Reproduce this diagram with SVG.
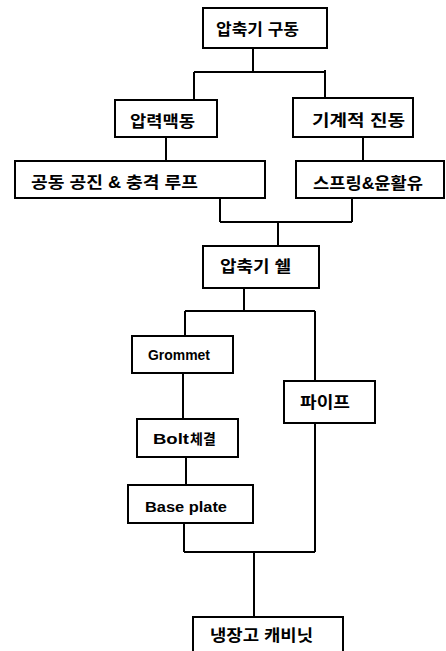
<svg xmlns="http://www.w3.org/2000/svg" width="446" height="651" viewBox="0 0 446 651">
<style>
.box{fill:#fff;stroke:#000;stroke-width:2}
.ln{stroke:#000;stroke-width:2;fill:none}
.ko{font-family:"Liberation Sans","Noto Sans CJK KR",sans-serif;font-size:16px;font-weight:bold;fill:#000}
.en{font-family:"Liberation Sans","Noto Sans CJK KR",sans-serif;font-size:14px;font-weight:bold;fill:#000}
</style>
<rect width="446" height="651" fill="#fff"/>
<g id="connectors" class="ln">
<path d="M253 48V72M194 72H325M194 72V100M325 70V98"/>
<path d="M166 137V161M363 137V161"/>
<path d="M220 198V222M352 198V222M220 222H352M278 222V246"/>
<path d="M244 288V311M185 311H315M185 311V336M315 311V381"/>
<path d="M183 373V419M186 457V485"/>
<path d="M315 423V552M184 523V552M184 552H315M254 552V617"/>
</g>
<g id="n1"><rect class="box" x="203" y="8" width="124" height="40"/><text class="ko" x="216" y="35" textLength="83" lengthAdjust="spacingAndGlyphs">압축기 구동</text></g>
<g id="n2"><rect class="box" x="115" y="100" width="102" height="37"/><text class="ko" x="130" y="127" textLength="65" lengthAdjust="spacingAndGlyphs">압력맥동</text></g>
<g id="n3"><rect class="box" x="293" y="98" width="120" height="39"/><text class="ko" x="312" y="126" textLength="93" lengthAdjust="spacingAndGlyphs">기계적 진동</text></g>
<g id="n4"><rect class="box" x="15" y="161" width="250" height="37"/><text class="ko" x="31" y="188" textLength="167" lengthAdjust="spacingAndGlyphs">공동 공진 &amp; 충격 루프</text></g>
<g id="n5"><rect class="box" x="296" y="161" width="148" height="37"/><text class="ko" x="313" y="189" textLength="110" lengthAdjust="spacingAndGlyphs">스프링&amp;윤활유</text></g>
<g id="n6"><rect class="box" x="203" y="246" width="116" height="42"/><text class="ko" x="220" y="272" textLength="71" lengthAdjust="spacingAndGlyphs">압축기 쉘</text></g>
<g id="n7"><rect class="box" x="132" y="336" width="101" height="37"/><text class="en" x="148" y="360" textLength="62" lengthAdjust="spacingAndGlyphs">Grommet</text></g>
<g id="n8"><rect class="box" x="137" y="419" width="101" height="38"/><text class="en" x="153" y="444"><tspan font-size="15" textLength="36" lengthAdjust="spacingAndGlyphs">Bolt</tspan><tspan x="190" font-size="14">체결</tspan></text></g>
<g id="n9"><rect class="box" x="128" y="485" width="125" height="38"/><text class="en" x="145" y="512" textLength="82" lengthAdjust="spacingAndGlyphs">Base plate</text></g>
<g id="n10"><rect class="box" x="284" y="381" width="91" height="42"/><text class="ko" x="300" y="408" textLength="50" lengthAdjust="spacingAndGlyphs">파이프</text></g>
<g id="n11"><rect class="box" x="193" y="617" width="150" height="50"/><text class="ko" x="210" y="641" textLength="103" lengthAdjust="spacingAndGlyphs">냉장고 캐비닛</text></g>
</svg>
